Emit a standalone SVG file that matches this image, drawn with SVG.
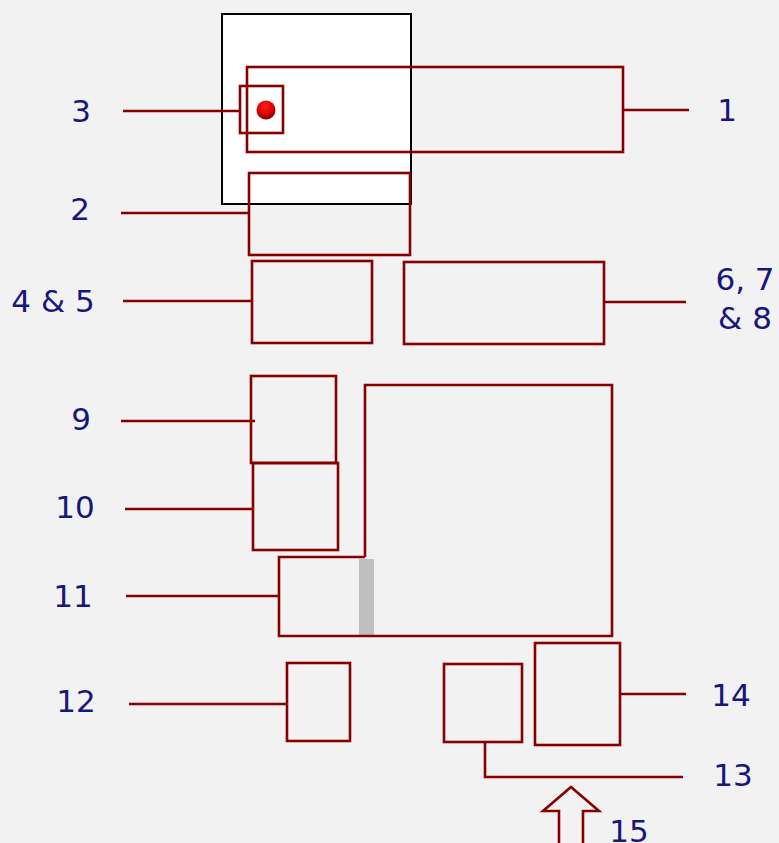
<svg xmlns="http://www.w3.org/2000/svg" width="779" height="843" viewBox="0 0 779 843">
<defs>
<radialGradient id="dot" cx="0.45" cy="0.3" r="0.75">
<stop offset="0" stop-color="#ff2020"/>
<stop offset="0.55" stop-color="#e00000"/>
<stop offset="1" stop-color="#6a0000"/>
</radialGradient>
<style>
.box{fill:none;stroke:#870000;stroke-width:2.6}
.ln{fill:none;stroke:#870000;stroke-width:2.6}
.lbl{font-family:"DejaVu Sans",Verdana,sans-serif;font-size:31px;fill:#17177a;text-anchor:middle}
</style>
</defs>
<rect x="0" y="0" width="779" height="843" fill="#f2f2f2"/>
<g id="frame">
<rect x="222" y="14" width="189" height="190" fill="#ffffff" stroke="#000000" stroke-width="2"/>
</g>
<g id="node-1">
<rect class="box" x="247" y="67" width="376" height="85"/>
</g>
<g id="node-3">
<rect class="box" x="240" y="86" width="43" height="47"/>
<circle cx="266" cy="110" r="9.5" fill="url(#dot)"/>
</g>
<g id="node-2">
<rect class="box" x="249" y="173" width="161" height="82"/>
</g>
<g id="node-4-5">
<rect class="box" x="252" y="261" width="120" height="82"/>
</g>
<g id="node-6-7-8">
<rect class="box" x="404" y="262" width="200" height="82"/>
</g>
<g id="node-9">
<rect class="box" x="251" y="376" width="85" height="87"/>
</g>
<g id="node-10">
<rect class="box" x="253" y="463" width="85" height="87"/>
</g>
<g id="node-big">
<rect x="359" y="559" width="15" height="77" fill="#c0c0c0"/>
<path class="box" d="M365,557 V385 H612 V636 H279 V557 H365"/>
</g>
<g id="node-12">
<rect class="box" x="287" y="663" width="63" height="78"/>
</g>
<g id="node-13">
<rect class="box" x="444" y="664" width="78" height="78"/>
</g>
<g id="node-14">
<rect class="box" x="535" y="643" width="85" height="102"/>
</g>
<g id="node-15">
<path class="box" d="M571,787 L599,811 H583 V845 H559 V811 H543 Z"/>
</g>
<g id="connectors">
<line class="ln" x1="123" y1="111" x2="240" y2="111"/>
<line class="ln" x1="623" y1="110" x2="689" y2="110"/>
<line class="ln" x1="121" y1="213" x2="249" y2="213"/>
<line class="ln" x1="123" y1="301" x2="252" y2="301"/>
<line class="ln" x1="604" y1="302" x2="686" y2="302"/>
<line class="ln" x1="121" y1="421" x2="255" y2="421"/>
<line class="ln" x1="125" y1="509" x2="253" y2="509"/>
<line class="ln" x1="126" y1="596" x2="279" y2="596"/>
<line class="ln" x1="129" y1="704" x2="287" y2="704"/>
<line class="ln" x1="620" y1="694" x2="686" y2="694"/>
<path class="ln" d="M485,742 V777 H683"/>
</g>
<g id="labels">
<text class="lbl" x="81" y="122">3</text>
<text class="lbl" x="727" y="121">1</text>
<text class="lbl" x="80" y="220">2</text>
<text class="lbl" x="53" y="312">4 &amp; 5</text>
<text class="lbl" x="745" y="290">6, 7</text>
<text class="lbl" x="745" y="329">&amp; 8</text>
<text class="lbl" x="81" y="430">9</text>
<text class="lbl" x="75" y="518">10</text>
<text class="lbl" x="73" y="607">11</text>
<text class="lbl" x="76" y="712">12</text>
<text class="lbl" x="731" y="706">14</text>
<text class="lbl" x="733" y="786">13</text>
<text class="lbl" x="629" y="842">15</text>
</g>
</svg>
